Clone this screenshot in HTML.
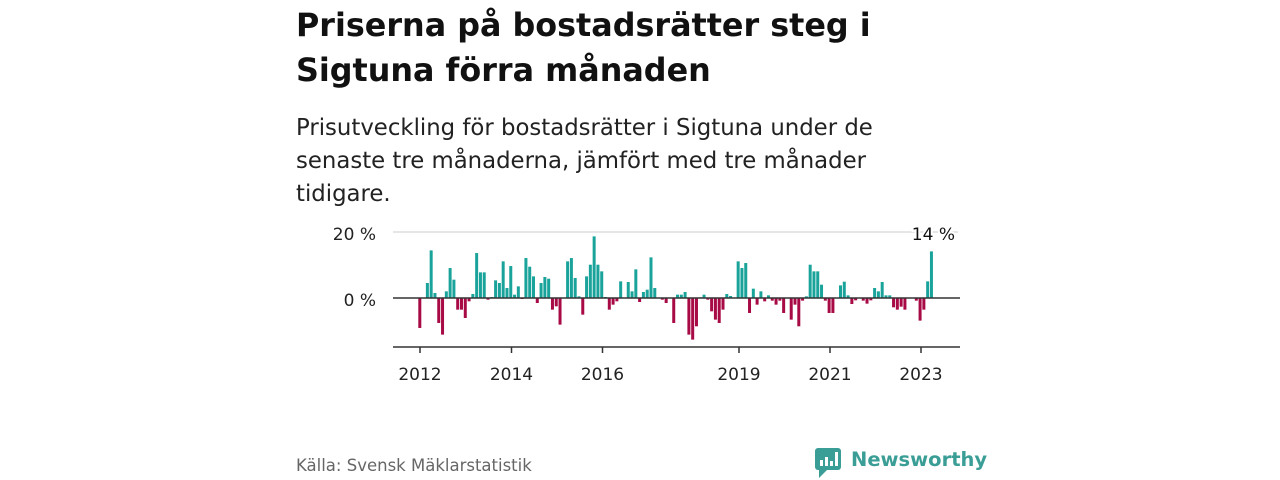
<!DOCTYPE html>
<html><head><meta charset="utf-8"><style>
body{margin:0;width:1280px;height:480px;background:#fff;font-family:"DejaVu Sans","Liberation Sans",sans-serif;overflow:hidden;position:relative}
.t{position:absolute;left:296px;top:3px;font-size:31.8px;font-weight:bold;color:#111;line-height:45px;width:640px}
.s{position:absolute;left:296px;top:112px;font-size:22.8px;color:#222;line-height:33px;width:600px}
.f{position:absolute;left:296px;top:456px;font-size:16.5px;color:#666}
.logo{position:absolute;left:851px;top:448px;font-size:19.5px;font-weight:bold;color:#3a9e96}
</style></head><body>
<div class="t">Priserna på bostadsrätter steg i Sigtuna förra månaden</div>
<div class="s">Prisutveckling för bostadsrätter i Sigtuna under de senaste tre månaderna, jämfört med tre månader tidigare.</div>
<div class="f">Källa: Svensk Mäklarstatistik</div>
<svg width="1280" height="480" style="position:absolute;left:0;top:0">
<line x1="393" y1="232" x2="958" y2="232" stroke="#ddd" stroke-width="1.5"/>
<text x="376" y="240" font-size="17" text-anchor="end" fill="#222">20 %</text>
<text x="376" y="306" font-size="17" text-anchor="end" fill="#222">0 %</text>
<g id="bars"></g>
<line x1="393" y1="298" x2="960" y2="298" stroke="#333" stroke-width="1.5"/>
<line x1="393" y1="347" x2="960" y2="347" stroke="#333" stroke-width="1.5"/>
<g stroke="#333" stroke-width="1.5">
<line x1="420" y1="347" x2="420" y2="353"/><line x1="511.5" y1="347" x2="511.5" y2="353"/><line x1="602.5" y1="347" x2="602.5" y2="353"/>
<line x1="739" y1="347" x2="739" y2="353"/><line x1="830" y1="347" x2="830" y2="353"/><line x1="921" y1="347" x2="921" y2="353"/></g>
<g font-size="17" fill="#222" text-anchor="middle">
<text x="420" y="380">2012</text><text x="511.5" y="380">2014</text><text x="602.5" y="380">2016</text>
<text x="739" y="380">2019</text><text x="830" y="380">2021</text><text x="921" y="380">2023</text></g>
<text x="955" y="240" font-size="17" text-anchor="end" fill="#111" stroke="#fff" stroke-width="4" paint-order="stroke">14 %</text>
<g transform="translate(815,448)">
<rect x="0" y="0" width="26" height="22" rx="3" fill="#3a9e96"/>
<polygon points="4,22 12,22 4,30" fill="#3a9e96"/>
<rect x="5" y="12" width="3" height="6" fill="#fff"/><rect x="10" y="9" width="3" height="9" fill="#fff"/><rect x="15" y="13" width="3" height="5" fill="#fff"/><rect x="20" y="4" width="3" height="14" fill="#fff"/>
</g>
</svg>
<div class="logo">Newsworthy</div>
<script>
var v=[-9,0,4.5,14.3,1.5,-7.5,-11,2,9,5.5,-3.5,-3.5,-6,-1,1.2,13.5,7.7,7.7,-0.5,0.3,5.3,4.5,11,3,9.6,1,3.5,-0.3,12,9.4,6.5,-1.5,4.5,6.3,5.8,-3.5,-2.5,-8,0,11,12,6,0.5,-5,6.5,10,18.5,10,8,0.3,-3.5,-2,-1,5,0,4.8,2,8.6,-1.2,1.8,2.5,12.2,3,0,-0.5,-1.5,0,-7.5,1,1,1.8,-11,-12.5,-8.5,0.2,1,-0.5,-4,-6.5,-7.5,-3.5,1.2,0.6,0,11,9,10.5,-4.5,2.8,-2,2,-1,0.8,-0.8,-2,-0.8,-4.5,0,-6.5,-2,-8.5,-0.8,0.5,10,8,8,4,-0.8,-4.5,-4.5,0,3.8,4.9,0.8,-1.8,-0.7,0,-0.8,-1.7,-0.7,3,2,4.8,0.8,0.8,-2.8,-3.5,-2.6,-3.5,0,0,-0.8,-6.8,-3.5,5,14];
var g=document.getElementById('bars'),s='';
for(var i=0;i<v.length;i++){var h=Math.abs(v[i])*3.33;if(h<0.1)continue;var x=418.3+i*3.79;
s+='<rect x="'+x.toFixed(2)+'" y="'+(v[i]>0?298-h:298).toFixed(2)+'" width="3" height="'+h.toFixed(2)+'" fill="'+(v[i]>0?'#1aa39a':'#a80a45')+'"/>';}
g.innerHTML=s;
</script>
</body></html>
